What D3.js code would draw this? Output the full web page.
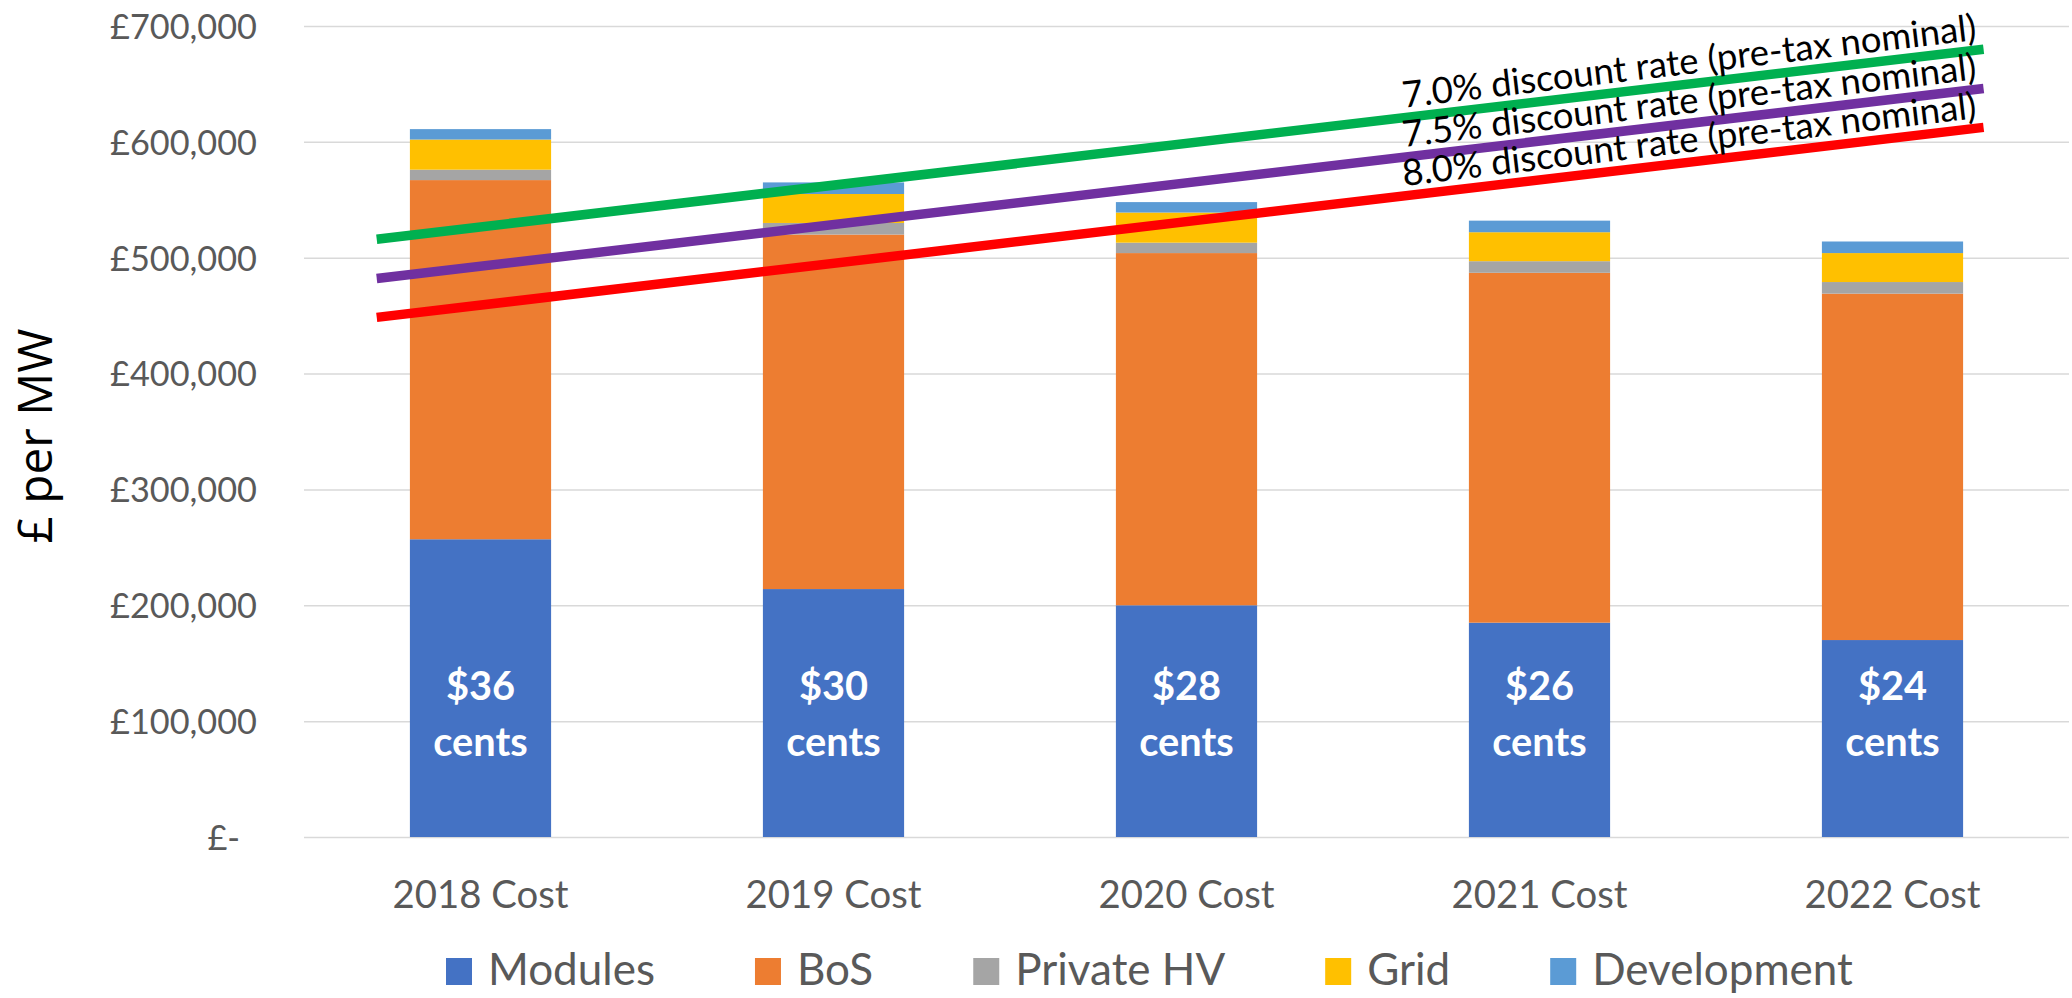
<!DOCTYPE html>
<html><head><meta charset="utf-8">
<script src="https://cdn.jsdelivr.net/npm/d3@7"></script>
<style>body{margin:0;background:#fff} svg{display:block}</style>
</head><body>
<svg id="chart" width="2072" height="998"></svg>
<script>
// ---------------- data ----------------
const categories = ["2018 Cost", "2019 Cost", "2020 Cost", "2021 Cost", "2022 Cost"];
const seriesNames = ["Modules", "BoS", "Private HV", "Grid", "Development"];
const modules     = [257000, 214000, 200000, 185000, 170000];
const bos         = [310000, 306000, 304000, 302000, 299000];
const privateHV   = [9000, 10000, 9000, 10000, 10000];
const grid        = [26000, 25000, 26000, 25000, 25000];
const development = [9000, 10000, 9000, 10000, 10000];
const centsLabels = ["$36", "$30", "$28", "$26", "$24"];
const yTicks = [0, 100000, 200000, 300000, 400000, 500000, 600000, 700000];
const lineNames = ["7.0% discount rate (pre-tax nominal)", "7.5% discount rate (pre-tax nominal)", "8.0% discount rate (pre-tax nominal)"];
const lineYears = [2017.706, 2022.258];
const line70 = [516000, 680000];
const line75 = [482000, 646000];
const line80 = [448500, 612500];

// ---------------- styles ----------------
const barColors = ["#4472C4", "#ED7D31", "#A5A5A5", "#FFC000", "#5B9BD5"];
const lineColors = ["#00B050", "#7030A0", "#FF0000"];
const FONT = "Lato, 'Open Sans', sans-serif";

const svg = d3.select("#chart");
const plotL = 304, plotR = 2069, plotT = 26, plotB = 837;

// text fitting helper
function fitSize(str, family, weight, target) {
  const t = svg.append("text").attr("font-family", family).attr("font-weight", weight)
    .attr("font-size", 100).text(str);
  const w = t.node().getComputedTextLength();
  t.remove();
  return 100 * target / w;
}
const yTickSize = fitSize("£700,000", FONT, 400, 147);
const xLabelSize = fitSize("2018 Cost", FONT, 400, 176);
const legendSize = fitSize(seriesNames.join(""), FONT, 400, 795);
const lineLabelSize = fitSize(lineNames[0], FONT, 400, 578);
const centsSize = fitSize("cents", FONT, 700, 94.5);
const titleSize = fitSize("£ per MW", "'Open Sans', sans-serif", 400, 215);

// ---------------- scales ----------------
const x = d3.scaleBand().domain(categories).range([plotL, plotR]).paddingInner(0.6).paddingOuter(0.3);
const y = d3.scaleLinear().domain([0, 700000]).range([plotB, plotT]);
const xc = d => x(d) + x.bandwidth() / 2;
const xYear = d3.scaleLinear().domain([2018, 2022]).range([xc(categories[0]), xc(categories[4])]);

// ---------------- gridlines ----------------
const gridG = svg.append("g").attr("transform", `translate(${plotL},0)`)
  .call(d3.axisLeft(y).tickValues(yTicks).tickSize(-(plotR - plotL)).tickFormat(""));
gridG.select(".domain").remove();
gridG.selectAll(".tick line").attr("stroke", "#D9D9D9").attr("stroke-width", 1.5);

// y tick labels
const fmt = d => d === 0 ? "£-" : "£" + d3.format(",")(d);
const yAx = svg.append("g").attr("transform", `translate(257,0)`)
  .call(d3.axisLeft(y).tickValues(yTicks).tickSize(0).tickPadding(0).tickFormat(fmt));
yAx.select(".domain").remove();
yAx.selectAll("text").attr("font-family", FONT).attr("font-size", yTickSize)
  .attr("fill", "#595959").attr("dy", "0.36em")
  .attr("x", d => d === 0 ? -17 : 0);

// ---------------- stacked bars ----------------
const rows = categories.map((c, i) => ({
  cat: c, Modules: modules[i], BoS: bos[i], "Private HV": privateHV[i], Grid: grid[i], Development: development[i]
}));
const stack = d3.stack().keys(seriesNames)(rows);
svg.append("g").selectAll("g").data(stack).join("g")
  .attr("fill", (d, i) => barColors[i])
  .selectAll("rect").data(d => d).join("rect")
  .attr("x", d => x(d.data.cat))
  .attr("width", x.bandwidth())
  .attr("y", d => y(d[1]))
  .attr("height", d => y(d[0]) - y(d[1]));

// cents labels
const labG = svg.append("g").attr("font-family", FONT).attr("font-weight", 700)
  .attr("font-size", centsSize).attr("fill", "#fff").attr("text-anchor", "middle");
labG.selectAll("text.v").data(categories).join("text").attr("class", "v")
  .attr("x", d => xc(d)).attr("y", 700).text((d, i) => centsLabels[i]);
labG.selectAll("text.c").data(categories).join("text").attr("class", "c")
  .attr("x", d => xc(d)).attr("y", 756).text("cents");

// ---------------- discount-rate lines ----------------
const lines = [line70, line75, line80];
const lineGen = d3.line().x((d, i) => xYear(lineYears[i])).y(d => y(d));
lines.forEach((vals, k) => {
  svg.append("path").datum(vals).attr("d", lineGen)
    .attr("fill", "none").attr("stroke", lineColors[k]).attr("stroke-width", 9.5)
    .attr("stroke-linecap", "butt");
});
lines.forEach((vals, k) => {
  const x1 = xYear(lineYears[0]), y1 = y(vals[0]);
  const x2 = xYear(lineYears[1]), y2 = y(vals[1]);
  const ang = Math.atan2(y2 - y1, x2 - x1) * 180 / Math.PI;
  svg.append("text")
    .attr("transform", `translate(${x2},${y2}) rotate(${ang})`)
    .attr("x", -5).attr("y", -10)
    .attr("text-anchor", "end")
    .attr("font-family", FONT).attr("font-size", lineLabelSize).attr("fill", "#000")
    .text(lineNames[k]);
});

// ---------------- x axis labels ----------------
const xAx = svg.append("g").attr("transform", `translate(0,${plotB})`)
  .call(d3.axisBottom(x).tickSize(0).tickPadding(0));
xAx.select(".domain").remove();
xAx.selectAll("text").attr("font-family", FONT).attr("font-size", xLabelSize)
  .attr("fill", "#595959").attr("y", 71).attr("dy", 0);

// ---------------- axis title ----------------
svg.append("text").attr("transform", "translate(52,436) rotate(-90)")
  .attr("text-anchor", "middle").attr("font-family", "'Open Sans', sans-serif")
  .attr("font-size", titleSize).attr("fill", "#000").text("£ per MW");

// ---------------- legend ----------------
const leg = svg.append("g");
let lx = 446;
seriesNames.forEach((n, i) => {
  leg.append("rect").attr("x", lx).attr("y", 958).attr("width", 26).attr("height", 27).attr("fill", barColors[i]);
  const t = leg.append("text").attr("x", lx + 42).attr("y", 985)
    .attr("font-family", FONT).attr("font-size", legendSize).attr("fill", "#595959").text(n);
  lx = lx + 42 + t.node().getComputedTextLength() + 100;
});
</script>
</body></html>
